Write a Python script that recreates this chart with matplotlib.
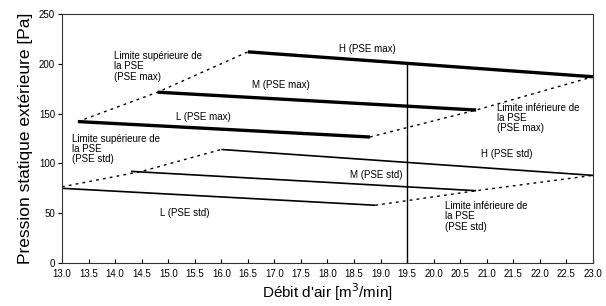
import matplotlib
matplotlib.use("Agg")
import matplotlib.pyplot as plt

plt.rcParams['font.family'] = ['Liberation Sans', 'DejaVu Sans']

# Fan curves: (x_start, x_end), (y_start, y_end)
max_x = {"L": (13.3, 18.8), "M": (14.8, 20.8), "H": (16.5, 23.0)}
max_y = {"L": (142.0, 126.5), "M": (171.5, 153.6), "H": (212.0, 187.0)}
std_x = {"L": (13.0, 18.9), "M": (14.3, 20.8), "H": (16.0, 23.0)}
std_y = {"L": (75.0, 58.0), "M": (92.0, 72.6), "H": (114.0, 88.0)}

# Limit lines
upper_max_x = [13.3, 14.8, 16.5]
upper_max_y = [142.0, 171.5, 212.0]
lower_max_x = [18.8, 20.8, 23.0]
lower_max_y = [126.5, 153.6, 187.0]
upper_std_x = [13.0, 14.5, 16.0]
upper_std_y = [76.5, 92.0, 114.0]
lower_std_x = [18.9, 20.8, 23.0]
lower_std_y = [58.0, 72.6, 88.0]

# Reference airflow line
ref_x = 19.5
ref_y = (0, 200.5)

x_ticks = [13.0 + 0.5 * i for i in range(21)]
y_ticks = [0, 50, 100, 150, 200, 250]

fig = plt.figure(figsize=(6.06, 3.06), dpi=100)
ax = fig.add_axes([0.1023, 0.1405, 0.8762, 0.8137])

for k in ["L", "M", "H"]:
    ax.plot(max_x[k], max_y[k], color='black', lw=2.4, solid_capstyle='butt')
    ax.plot(std_x[k], std_y[k], color='black', lw=1.2, solid_capstyle='butt')

dot = dict(color='black', lw=1.0, linestyle=(0, (2, 3)))
ax.plot(upper_max_x, upper_max_y, **dot)
ax.plot(lower_max_x, lower_max_y, **dot)
ax.plot(upper_std_x, upper_std_y, **dot)
ax.plot(lower_std_x, lower_std_y, **dot)

ax.plot([ref_x, ref_x], ref_y, color='black', lw=1.0)

fs = 7
ax.text(18.22, 215, "H (PSE max)", fontsize=fs, va='center', ha='left')
ax.text(16.58, 178.5, "M (PSE max)", fontsize=fs, va='center', ha='left')
ax.text(15.15, 146.5, "L (PSE max)", fontsize=fs, va='center', ha='left')
ax.text(20.9, 109.4, "H (PSE std)", fontsize=fs, va='center', ha='left')
ax.text(18.42, 88.4, "M (PSE std)", fontsize=fs, va='center', ha='left')
ax.text(14.85, 50.2, "L (PSE std)", fontsize=fs, va='center', ha='left')
ls = 1.05
ax.text(13.98, 213, "Limite supérieure de\nla PSE\n(PSE max)", fontsize=fs,
        va='top', ha='left', linespacing=ls)
ax.text(13.19, 130, "Limite supérieure de\nla PSE\n(PSE std)", fontsize=fs,
        va='top', ha='left', linespacing=ls)
ax.text(21.19, 161, "Limite inférieure de\nla PSE\n(PSE max)", fontsize=fs,
        va='top', ha='left', linespacing=ls)
ax.text(20.21, 62.5, "Limite inférieure de\nla PSE\n(PSE std)", fontsize=fs,
        va='top', ha='left', linespacing=ls)

ax.set_xlim(13.0, 23.0)
ax.set_ylim(0, 250)
ax.set_xticks(x_ticks)
ax.set_xticklabels([f"{v:.1f}" for v in x_ticks])
ax.set_yticks(y_ticks)
ax.tick_params(axis='x', direction='in', length=3, width=0.8, labelsize=7, pad=4)
ax.tick_params(axis='y', direction='out', length=3, width=0.8, labelsize=7, pad=2)
for s in ax.spines.values():
    s.set_linewidth(0.8)
    s.set_color('#333333')

ax.set_xlabel("Débit d'air [m$^3$/min]", fontsize=11, labelpad=2)
ax.set_ylabel("Pression statique extérieure [Pa]", fontsize=12.5, labelpad=4)

fig.savefig("out.png", dpi=100)
